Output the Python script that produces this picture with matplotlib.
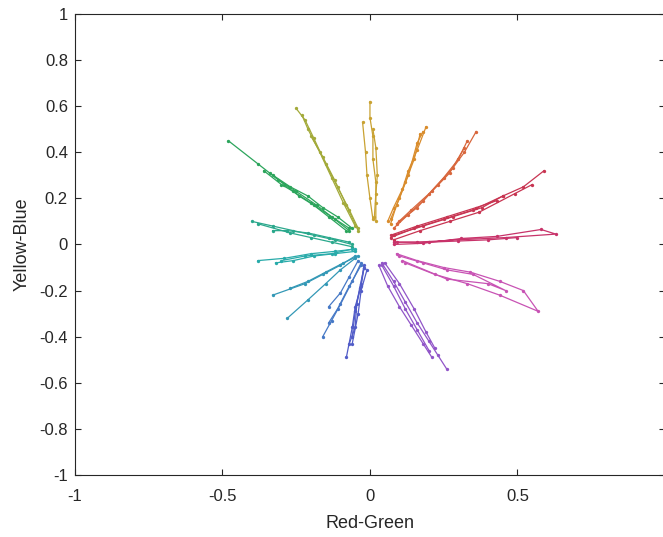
import numpy as np
import matplotlib
matplotlib.use('Agg')
import matplotlib.pyplot as plt
from matplotlib.ticker import FuncFormatter

# Each hue direction holds several runs; each run is a list of (a, b) points
teal_green = [
    [(-0.06, 0.00), (-0.12, 0.02), (-0.19, 0.04), (-0.26, 0.06), (-0.33, 0.08), (-0.40, 0.10)],
    [(-0.07, 0.01), (-0.14, 0.03), (-0.21, 0.05), (-0.28, 0.06), (-0.33, 0.06)],
    [(-0.06, -0.01), (-0.13, 0.01), (-0.20, 0.03), (-0.27, 0.05), (-0.38, 0.09)],
]
green = [
    [(-0.07, 0.06), (-0.12, 0.11), (-0.18, 0.17), (-0.25, 0.23), (-0.31, 0.28), (-0.38, 0.35), (-0.48, 0.45)],
    [(-0.06, 0.07), (-0.11, 0.12), (-0.16, 0.16), (-0.21, 0.21), (-0.27, 0.25), (-0.34, 0.31)],
    [(-0.08, 0.06), (-0.14, 0.12), (-0.20, 0.18), (-0.26, 0.23), (-0.30, 0.26), (-0.36, 0.32)],
    [(-0.07, 0.07), (-0.13, 0.12), (-0.19, 0.17), (-0.24, 0.21), (-0.29, 0.26), (-0.33, 0.30)],
]
olive = [
    [(-0.04, 0.07), (-0.07, 0.15), (-0.11, 0.25), (-0.15, 0.35), (-0.19, 0.46), (-0.22, 0.54), (-0.25, 0.59)],
    [(-0.05, 0.08), (-0.09, 0.18), (-0.13, 0.29), (-0.17, 0.40), (-0.21, 0.50), (-0.23, 0.56)],
    [(-0.04, 0.06), (-0.08, 0.17), (-0.12, 0.28), (-0.16, 0.38), (-0.20, 0.47)],
]
gold = [
    [(0.02, 0.10), (0.02, 0.18), (0.02, 0.27), (0.01, 0.37), (0.01, 0.47), (0.00, 0.55), (0.00, 0.62)],
    [(0.01, 0.11), (0.00, 0.20), (-0.01, 0.30), (-0.015, 0.40), (-0.025, 0.53)],
    [(0.015, 0.12), (0.02, 0.22), (0.025, 0.30), (0.02, 0.42), (0.01, 0.50)],
]
orange = [
    [(0.06, 0.10), (0.08, 0.16), (0.11, 0.24), (0.13, 0.32), (0.16, 0.41), (0.19, 0.51)],
    [(0.07, 0.09), (0.09, 0.17), (0.12, 0.27), (0.15, 0.37), (0.17, 0.48)],
    [(0.07, 0.11), (0.10, 0.20), (0.13, 0.30), (0.16, 0.44), (0.18, 0.49)],
]
vermilion = [
    [(0.08, 0.07), (0.13, 0.13), (0.18, 0.19), (0.23, 0.26), (0.28, 0.33), (0.32, 0.40), (0.36, 0.49)],
    [(0.09, 0.09), (0.14, 0.15), (0.20, 0.22), (0.25, 0.29), (0.30, 0.37), (0.33, 0.45)],
    [(0.10, 0.10), (0.16, 0.16), (0.21, 0.23), (0.27, 0.31), (0.32, 0.42)],
]
crimson = [
    [(0.07, 0.03), (0.15, 0.07), (0.25, 0.11), (0.35, 0.15), (0.45, 0.21), (0.52, 0.25), (0.59, 0.32)],
    [(0.08, 0.02), (0.17, 0.06), (0.27, 0.10), (0.37, 0.14), (0.49, 0.22), (0.55, 0.26)],
    [(0.08, 0.04), (0.18, 0.08), (0.28, 0.12), (0.38, 0.16), (0.45, 0.21)],
    [(0.07, 0.04), (0.16, 0.08), (0.26, 0.12), (0.36, 0.16), (0.43, 0.19)],
]
rose = [
    [(0.08, 0.00), (0.18, 0.005), (0.31, 0.026), (0.43, 0.035), (0.58, 0.065), (0.63, 0.045), (0.46, 0.03), (0.30, 0.02), (0.16, 0.01), (0.08, 0.01)],
    [(0.09, 0.01), (0.20, 0.01), (0.30, 0.015), (0.40, 0.02), (0.50, 0.03)],
]
magenta = [
    [(0.09, -0.04), (0.16, -0.07), (0.25, -0.10), (0.34, -0.12), (0.44, -0.16), (0.52, -0.20), (0.57, -0.29),
     (0.44, -0.22), (0.33, -0.17), (0.22, -0.13), (0.12, -0.08)],
    [(0.10, -0.05), (0.18, -0.08), (0.26, -0.11), (0.35, -0.13), (0.46, -0.20), (0.40, -0.17), (0.26, -0.15), (0.11, -0.07)],
]
purple = [
    [(0.04, -0.08), (0.08, -0.16), (0.12, -0.25), (0.16, -0.34), (0.20, -0.42), (0.23, -0.48), (0.26, -0.54)],
    [(0.03, -0.09), (0.06, -0.18), (0.10, -0.27), (0.14, -0.35), (0.18, -0.43), (0.21, -0.49)],
    [(0.05, -0.08), (0.10, -0.17), (0.15, -0.28), (0.19, -0.38), (0.22, -0.45)],
    [(0.04, -0.09), (0.08, -0.18), (0.12, -0.28), (0.16, -0.37), (0.20, -0.46)],
]
blue = [
    [(-0.02, -0.10), (-0.03, -0.18), (-0.05, -0.27), (-0.06, -0.36), (-0.08, -0.49)],
    [(-0.01, -0.11), (-0.03, -0.20), (-0.04, -0.30), (-0.06, -0.43)],
    [(-0.02, -0.09), (-0.03, -0.17), (-0.045, -0.26), (-0.05, -0.36), (-0.07, -0.43)],
    [(-0.02, -0.10), (-0.035, -0.19), (-0.05, -0.29), (-0.06, -0.40)],
]
azure = [
    [(-0.03, -0.08), (-0.06, -0.16), (-0.10, -0.26), (-0.13, -0.33), (-0.16, -0.40)],
    [(-0.04, -0.07), (-0.07, -0.14), (-0.10, -0.21), (-0.14, -0.27)],
    [(-0.03, -0.09), (-0.07, -0.18), (-0.11, -0.28), (-0.14, -0.34)],
]
cyan = [
    [(-0.05, -0.05), (-0.10, -0.09), (-0.16, -0.13), (-0.22, -0.17), (-0.33, -0.22)],
    [(-0.05, -0.06), (-0.10, -0.11), (-0.15, -0.17), (-0.21, -0.24), (-0.28, -0.32)],
    [(-0.04, -0.05), (-0.09, -0.08), (-0.15, -0.12), (-0.21, -0.16), (-0.27, -0.19)],
]
teal = [
    [(-0.05, -0.02), (-0.12, -0.03), (-0.20, -0.04), (-0.29, -0.06), (-0.38, -0.07)],
    [(-0.05, -0.03), (-0.12, -0.04), (-0.19, -0.05), (-0.26, -0.07), (-0.32, -0.08)],
    [(-0.06, -0.02), (-0.13, -0.04), (-0.22, -0.05), (-0.30, -0.07)],
]

spokes = [
    (teal_green, '#2aa88c'), (green, '#2ca55c'), (olive, '#a3aa3a'), (gold, '#c9a232'),
    (orange, '#d98c2c'), (vermilion, '#d8663c'), (crimson, '#c83552'), (rose, '#c8336a'),
    (magenta, '#c853b4'), (purple, '#9155c8'), (blue, '#515cc8'), (azure, '#4679c6'),
    (cyan, '#3398b6'), (teal, '#29abaa'),
]

plt.rcParams['font.family'] = ['Liberation Sans', 'DejaVu Sans']

fig = plt.figure(figsize=(6.63, 5.37), dpi=100)
ax = fig.add_axes([0.113, 0.1155, 0.890, 0.8585])

for runs, colour in spokes:
    for run in runs:
        pts = np.array(run)
        ax.plot(pts[:, 0], pts[:, 1], '-', color=colour, lw=0.9,
                marker='o', markersize=2.4, markeredgewidth=0)

ax.set_xlim(-1, 1)
ax.set_ylim(-1, 1)
ax.set_xticks([-1, -0.5, 0, 0.5])
ax.set_yticks(np.round(np.arange(-1, 1.01, 0.2), 1))


def tick_text(v, pos):
    # plain hyphen and no trailing zeros, e.g. -0.2, 0, 1
    v = round(v, 2) + 0.0
    if v == 0:
        return '0'
    return '%g' % v


ax.xaxis.set_major_formatter(FuncFormatter(tick_text))
ax.yaxis.set_major_formatter(FuncFormatter(tick_text))

ax.tick_params(direction='in', length=4, width=0.8, colors='#262626',
               labelsize=12, top=True, right=True)
ax.tick_params(axis='x', pad=10)
ax.tick_params(axis='y', pad=5)
for s in ax.spines.values():
    s.set_color('#262626')
    s.set_linewidth(0.8)

ax.set_xlabel('Red-Green', fontsize=13, color='#262626', labelpad=8)
ax.set_ylabel('Yellow-Blue', fontsize=13, color='#262626', labelpad=6)

fig.savefig('out.png', dpi=100)
